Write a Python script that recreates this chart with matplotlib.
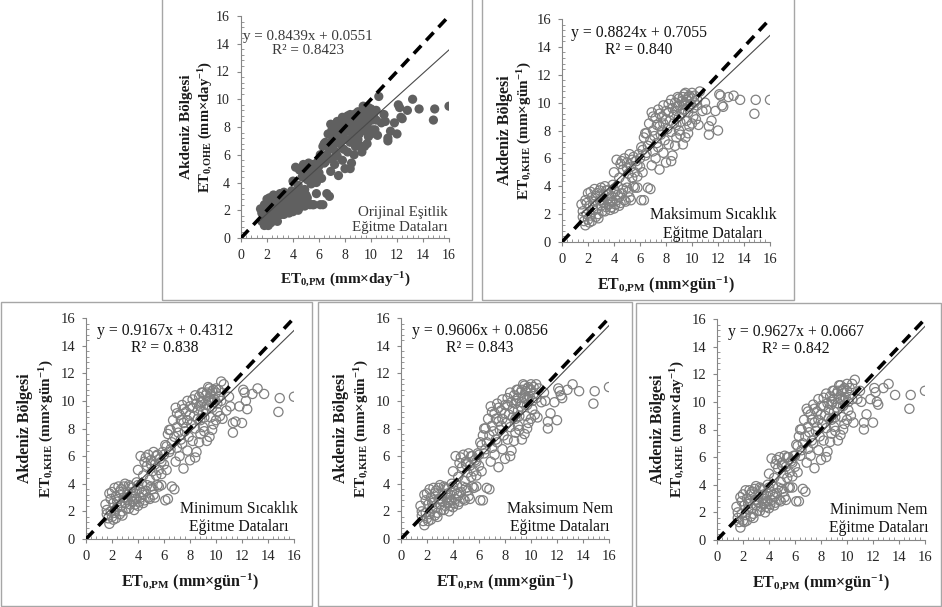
import numpy as np
import matplotlib
matplotlib.use("Agg")
import matplotlib.pyplot as plt
from matplotlib.patches import Rectangle
from matplotlib.ticker import MultipleLocator

plt.rcParams['font.family'] = ['Liberation Serif', 'DejaVu Serif']
plt.rcParams['mathtext.fontset'] = 'custom'
plt.rcParams['mathtext.rm'] = 'Liberation Serif:bold'
plt.rcParams['mathtext.bf'] = 'Liberation Serif:bold'
plt.rcParams['mathtext.it'] = 'Liberation Serif:bold'

# ET0,PM (shared x values for every panel)
et0_pm = [
    1.5, 1.6, 1.7, 1.8, 1.8, 1.9, 2.0, 2.0, 2.1, 2.2, 2.3, 2.3, 2.4, 2.5, 2.5,
    2.6, 2.7, 2.7, 2.8, 2.9, 3.0, 3.0, 3.1, 3.2, 3.2, 3.3, 3.4, 3.5, 3.5, 3.6,
    3.7, 3.8, 3.9, 3.9, 4.0, 4.1, 4.2, 4.3, 4.4, 4.5, 4.6, 4.8, 5.0, 5.2, 5.5,
    5.6, 6.1, 6.6, 6.8,
    4.0, 4.2, 4.4, 4.5, 4.7, 4.8, 4.9, 5.0, 5.1, 5.2, 5.3, 5.4, 5.5, 5.6, 5.7,
    5.8, 5.9, 6.0, 6.1, 6.2, 6.3, 6.4,
    6.5, 6.6, 6.7, 6.8, 6.9, 7.0, 7.0, 7.1, 7.2, 7.3, 7.4, 7.5, 7.6, 7.7, 7.8,
    7.8, 7.9, 8.0, 8.1, 8.2, 8.3, 8.4, 8.5, 8.6, 8.7, 8.8, 8.9, 9.0, 9.0, 9.1,
    9.2, 9.3, 9.4, 9.5, 9.6, 9.7, 9.8, 9.9, 10.0, 10.1, 10.2, 10.4, 10.6,
    6.9, 7.2, 7.5, 7.8, 8.0, 8.2, 8.5, 8.8, 9.0, 9.3, 9.5, 9.6, 9.8, 10.0, 10.3,
    10.5,
    10.8, 11.0, 11.1, 11.3, 11.3, 11.5, 11.8, 12.0, 12.1, 12.2, 12.3, 12.4, 12.8,
    13.2, 13.7, 14.8, 14.9, 16.0,
    1.6, 1.9, 2.1, 2.2, 2.4, 2.6, 2.8, 2.9, 3.1, 3.3, 3.4, 3.6, 3.7, 3.8, 4.0,
    4.1, 4.3, 4.4, 4.7, 4.9, 5.1, 5.3, 5.8, 6.3,
    4.6, 5.0, 5.4, 5.8, 6.2, 6.0, 6.4, 6.5,
    7.0, 7.3, 7.5, 7.7, 8.0, 8.2, 8.4, 8.6, 8.8, 9.0, 9.2, 9.4, 9.5, 9.7, 9.8,
    10.0, 10.2, 10.4, 8.9, 9.3,
    7.4, 8.4, 8.7, 9.1, 9.7, 10.1,
]

# ET0 estimates per panel
et0_orijinal = [
    2.1, 1.8, 1.2, 0.9, 2.4, 1.6, 2.8, 1.2, 2.0, 1.5, 2.6, 1.1, 1.8, 3.1, 2.3,
    1.4, 1.9, 2.9, 1.6, 2.4, 3.2, 2.0, 1.7, 2.8, 2.2, 3.3, 1.9, 2.5, 3.0, 2.1,
    1.8, 2.7, 3.4, 2.3, 1.9, 2.9, 2.4, 3.3, 2.6, 2.2, 2.8, 2.4, 3.1, 2.5, 2.4,
    2.4, 2.4, 3.2, 3.0,
    4.1, 5.1, 3.8, 4.9, 4.4, 5.3, 3.5, 5.0, 4.2, 5.4, 4.6, 3.9, 5.3, 4.3, 5.0,
    4.0, 5.5, 4.7, 6.0, 4.3, 6.6, 5.4,
    6.9, 6.0, 7.5, 6.4, 8.2, 7.0, 5.7, 6.7, 7.8, 6.2, 8.4, 7.3, 6.8, 7.9, 8.7,
    7.5, 6.4, 8.3, 7.1, 8.8, 7.7, 6.9, 8.5, 8.0, 8.9, 7.4, 8.6, 9.1, 7.9, 7.5,
    8.9, 8.4, 9.5, 8.7, 9.1, 8.2, 9.4, 8.8, 9.2, 8.5, 8.9, 9.2, 10.2,
    4.8, 5.3, 4.5, 5.6, 5.0, 6.2, 5.4, 6.6, 7.1, 6.2, 6.6, 7.7, 7.3, 7.5, 7.8,
    7.4,
    8.3, 8.9, 8.4, 7.2, 7.0, 7.7, 8.3, 7.5, 9.6, 9.4, 8.7, 8.6, 9.2, 10.0, 9.3,
    8.5, 9.3, 9.5,
    1.2, 2.2, 0.9, 2.9, 2.1, 2.7, 1.2, 3.0, 2.4, 1.7, 3.0, 2.8, 2.3, 2.0, 3.1,
    2.1, 2.8, 2.0, 3.2, 2.3, 2.9, 2.4, 3.2, 2.4,
    5.0, 4.5, 5.1, 4.7, 5.7, 5.2, 6.8, 5.5,
    7.8, 7.3, 8.0, 7.0, 7.7, 8.1, 8.9, 7.4, 8.2, 8.5, 8.0, 8.6, 9.3, 9.0, 8.4,
    9.3, 9.1, 8.5, 9.0, 9.0,
    5.9, 5.0, 6.0, 6.7, 6.8, 7.8,
]
et0_maks_sicaklik = [
    2.7, 2.2, 1.5, 1.2, 3.0, 2.0, 3.5, 1.6, 2.6, 1.9, 3.2, 1.5, 2.3, 3.8, 2.9,
    1.8, 2.4, 3.5, 2.0, 3.0, 3.9, 2.6, 2.2, 3.4, 2.8, 4.0, 2.5, 3.1, 3.7, 2.7,
    2.3, 3.3, 4.1, 2.9, 2.4, 3.6, 3.0, 4.0, 3.2, 2.8, 3.5, 3.0, 3.9, 3.2, 4.0,
    3.9, 3.0, 3.9, 3.8,
    5.0, 5.9, 4.6, 5.6, 5.2, 6.0, 4.3, 5.7, 4.9, 6.3, 5.4, 4.6, 6.1, 5.0, 5.8,
    4.7, 6.3, 5.4, 6.8, 5.0, 7.5, 6.2,
    7.8, 6.9, 8.5, 7.3, 9.3, 8.0, 6.5, 7.6, 8.9, 7.1, 9.5, 8.3, 7.7, 9.0, 9.8,
    8.5, 7.3, 9.4, 8.1, 9.9, 8.7, 7.9, 9.6, 9.1, 10.0, 8.4, 9.7, 10.3, 9.0, 8.6,
    10.1, 9.5, 10.6, 9.8, 10.2, 9.3, 10.5, 9.9, 10.3, 9.6, 10.0, 10.2, 10.8,
    5.5, 6.0, 5.2, 6.4, 5.7, 7.0, 6.2, 7.5, 8.0, 7.0, 7.5, 8.7, 8.3, 8.5, 8.8,
    8.4,
    9.4, 10.0, 9.5, 8.3, 7.7, 8.7, 9.4, 8.0, 10.6, 10.5, 9.8, 9.7, 10.4, 10.5,
    10.2, 9.2, 10.2, 10.2,
    1.8, 2.8, 1.4, 3.6, 2.7, 3.3, 1.7, 3.7, 3.0, 2.2, 3.7, 3.4, 2.9, 2.5, 3.8,
    2.7, 3.4, 2.6, 3.8, 2.9, 3.6, 3.0, 3.9, 3.0,
    5.8, 5.3, 5.9, 5.5, 6.6, 6.0, 7.8, 6.4,
    9.0, 8.4, 9.2, 8.0, 8.8, 9.3, 10.2, 8.5, 9.4, 9.8, 9.2, 9.9, 10.7, 10.4, 9.7,
    10.7, 10.5, 9.8, 10.4, 10.4,
    6.8, 5.8, 6.9, 7.7, 7.8, 9.0,
]
et0_min_sicaklik = [
    2.5, 2.1, 1.5, 1.1, 3.3, 2.0, 3.4, 1.6, 2.6, 1.9, 3.1, 1.5, 2.3, 3.8, 2.9,
    1.8, 2.4, 3.6, 2.0, 3.0, 4.0, 2.6, 2.2, 3.4, 2.8, 3.9, 2.5, 3.1, 3.7, 2.7,
    2.1, 3.3, 4.1, 2.9, 2.4, 3.6, 3.0, 4.0, 3.2, 2.8, 3.5, 3.0, 3.8, 3.2, 3.9,
    3.8, 2.8, 3.8, 3.6,
    5.0, 6.0, 4.6, 5.6, 5.3, 6.1, 4.3, 5.7, 4.9, 6.3, 5.4, 4.6, 6.1, 5.0, 5.8,
    4.7, 6.3, 5.4, 6.8, 5.0, 7.6, 6.3,
    7.9, 7.0, 8.6, 7.4, 9.5, 8.1, 6.6, 7.7, 9.0, 7.2, 9.7, 8.4, 7.8, 9.2, 10.0,
    8.6, 7.4, 9.6, 8.3, 10.1, 8.9, 8.0, 9.8, 9.3, 10.3, 8.6, 9.9, 10.6, 9.2, 8.8,
    10.4, 9.7, 11.0, 10.0, 10.5, 9.5, 10.8, 10.1, 10.6, 9.8, 10.3, 11.4, 11.2,
    5.6, 6.0, 5.1, 6.4, 5.7, 7.1, 6.3, 7.6, 8.1, 7.1, 7.4, 8.8, 8.3, 8.6, 8.9,
    8.7,
    9.3, 10.3, 9.6, 8.4, 7.7, 8.5, 9.6, 8.4, 10.8, 10.6, 10.0, 9.4, 10.5, 10.9,
    10.5, 9.2, 10.2, 10.3,
    1.8, 2.9, 1.4, 3.7, 2.7, 3.4, 1.7, 3.8, 3.0, 2.2, 3.8, 3.4, 2.9, 2.5, 3.9,
    2.7, 3.4, 2.6, 3.9, 2.9, 3.6, 3.0, 3.9, 2.9,
    5.9, 5.4, 6.0, 5.6, 6.7, 6.1, 7.9, 6.5,
    9.1, 8.6, 9.4, 8.1, 9.0, 9.5, 10.4, 8.7, 9.6, 10.0, 9.4, 10.1, 10.9, 10.7,
    9.9, 10.9, 10.8, 10.0, 10.6, 10.6,
    6.9, 5.9, 7.0, 7.8, 7.9, 9.2,
]
et0_maks_nem = [
    2.4, 2.0, 1.3, 1.0, 3.2, 1.9, 3.3, 1.5, 2.5, 1.8, 3.0, 1.4, 2.2, 3.7, 2.8,
    1.7, 2.3, 3.5, 1.9, 2.9, 3.9, 2.5, 2.1, 3.3, 2.7, 3.8, 2.4, 3.0, 3.6, 2.6,
    2.0, 3.2, 4.0, 2.8, 2.3, 3.5, 2.9, 3.9, 3.1, 2.7, 3.4, 2.9, 3.7, 3.1, 3.8,
    3.7, 2.8, 3.7, 3.6,
    4.9, 6.0, 4.5, 5.5, 5.2, 6.1, 4.2, 5.6, 4.8, 6.2, 5.3, 4.5, 6.0, 4.9, 5.7,
    4.6, 6.2, 5.3, 7.0, 4.9, 7.5, 6.2,
    8.0, 7.0, 8.7, 7.5, 9.6, 8.2, 6.6, 7.8, 9.1, 7.2, 9.8, 8.5, 7.9, 9.3, 10.1,
    8.7, 7.5, 9.7, 8.4, 10.2, 9.0, 8.1, 9.9, 9.4, 10.4, 8.7, 10.0, 10.8, 9.3, 8.9,
    10.6, 9.9, 11.2, 10.2, 10.7, 9.7, 11.0, 10.3, 10.8, 10.0, 10.5, 11.2, 10.9,
    5.6, 6.1, 5.2, 6.5, 5.8, 7.2, 6.4, 7.7, 8.2, 7.2, 7.6, 8.9, 8.4, 8.7, 9.0,
    8.8,
    9.9, 10.6, 10.0, 8.5, 8.0, 9.1, 9.9, 8.6, 10.9, 10.7, 10.4, 10.2, 10.8, 11.2,
    10.7, 9.8, 10.7, 11.0,
    1.7, 2.8, 1.3, 3.6, 2.6, 3.3, 1.6, 3.7, 2.9, 2.1, 3.7, 3.3, 2.8, 2.4, 3.8,
    2.6, 3.3, 2.5, 3.8, 2.8, 3.5, 2.9, 3.8, 2.8,
    5.9, 5.4, 6.0, 5.6, 6.8, 6.1, 8.0, 6.5,
    9.2, 8.7, 9.5, 8.2, 9.1, 9.7, 10.6, 8.8, 9.8, 10.2, 9.6, 10.3, 11.1, 10.9,
    10.1, 11.2, 11.0, 10.2, 10.8, 10.8,
    7.0, 6.0, 7.1, 7.9, 8.0, 9.4,
]
et0_min_nem = [
    2.4, 2.0, 1.3, 0.9, 3.1, 1.9, 3.3, 1.4, 2.5, 1.8, 3.0, 1.4, 2.2, 3.6, 2.8,
    1.7, 2.3, 3.5, 1.9, 2.9, 3.9, 2.5, 2.1, 3.3, 2.7, 3.8, 2.4, 3.0, 3.6, 2.6,
    2.0, 3.2, 4.0, 2.8, 2.3, 3.5, 2.9, 3.9, 3.1, 2.7, 3.4, 2.9, 3.7, 3.1, 3.8,
    3.8, 2.8, 3.7, 3.5,
    4.8, 5.9, 4.5, 5.5, 5.2, 6.0, 4.2, 5.6, 4.8, 6.1, 5.3, 4.5, 6.0, 4.9, 5.7,
    4.6, 6.1, 5.3, 6.9, 4.9, 7.5, 6.1,
    8.0, 7.0, 8.7, 7.5, 9.5, 8.2, 6.6, 7.8, 9.1, 7.2, 9.8, 8.5, 7.9, 9.3, 10.2,
    8.7, 7.5, 9.7, 8.4, 10.3, 9.0, 8.1, 9.9, 9.4, 10.4, 8.7, 10.0, 10.8, 9.3, 8.9,
    10.6, 9.9, 11.2, 10.2, 10.8, 9.7, 11.0, 10.3, 10.8, 10.0, 10.5, 11.3, 11.6,
    5.6, 6.1, 5.2, 6.5, 5.8, 7.2, 6.4, 7.7, 8.2, 7.2, 7.6, 8.9, 8.4, 8.7, 9.0,
    8.5,
    10.2, 10.8, 10.0, 8.5, 8.0, 9.1, 10.2, 8.5, 11.0, 10.7, 10.0, 9.8, 11.0, 11.3,
    10.5, 9.5, 10.5, 10.8,
    1.6, 2.8, 1.3, 3.6, 2.6, 3.3, 1.6, 3.7, 2.9, 2.1, 3.7, 3.3, 2.8, 2.4, 3.8,
    2.6, 3.3, 2.5, 3.8, 2.8, 3.5, 2.9, 3.8, 2.8,
    5.8, 5.4, 6.0, 5.6, 6.8, 6.1, 8.0, 6.5,
    9.3, 8.7, 9.5, 8.2, 9.1, 9.7, 10.6, 8.8, 9.8, 10.2, 9.6, 10.3, 11.2, 10.9,
    10.1, 11.3, 11.0, 10.2, 10.8, 10.8,
    7.0, 6.0, 7.1, 7.9, 8.0, 9.4,
]

slopes = [0.8439, 0.8824, 0.9167, 0.9606, 0.9627]
intercepts = [0.0551, 0.7055, 0.4312, 0.0856, 0.0667]
r2_labels = ["0.8423", "0.840", "0.838", "0.843", "0.842"]
panel_titles = ["Orijinal Eşitlik\nEğitme Dataları",
                "Maksimum Sıcaklık\nEğitme Dataları",
                "Minimum Sıcaklık\nEğitme Dataları",
                "Maksimum Nem\nEğitme Dataları",
                "Minimum Nem\nEğitme Dataları"]
y_subs = ["0{,}OHE", "0{,}KHE", "0{,}KHE", "0{,}KHE", "0{,}KHE"]
y_units = ["day", "gün", "gün", "gün", "day"]
x_units = ["day", "gün", "gün", "gün", "gün"]
y_series = [et0_orijinal, et0_maks_sicaklik, et0_min_sicaklik,
            et0_maks_nem, et0_min_nem]

W, H = 942, 607
# axes rectangles in pixels: left, top, right, bottom
axes_px = [(241, 16, 449, 238), (562, 19, 770, 242),
           (86, 318, 294, 539), (401, 318, 609, 539), (717, 319, 925, 540)]
boxes_px = [(162, -2, 472, 300), (482, -2, 794, 300),
            (1, 302, 312, 606), (318, 302, 632, 606), (636, 303, 941, 606)]
# text positions (data coords): equation (left edge), panel note (right edge)
eq_pos = [(0.15, 14.0), (0.7, 14.4), (0.85, 14.45), (0.85, 14.45), (0.85, 14.45)]
note_pos = [(15.9, 1.3), (16.5, 1.25), (16.3, 1.5), (16.3, 1.5), (16.3, 1.5)]
# right edges of the two y label lines, axes fraction
ylab1_x = [-0.232, -0.236, -0.256, -0.251, -0.246]
ylab2_x = [-0.125, -0.136, -0.146, -0.146, -0.146]
fsz = [10, 10.5, 10.5, 10.5, 10.5]


def to_fig(l, t, r, b):
    return [l / W, 1 - b / H, (r - l) / W, (b - t) / H]


def main():
    fig = plt.figure(figsize=(W / 100, H / 100), dpi=100)

    for (l, t, r, b) in boxes_px:
        fig.patches.append(Rectangle((l / W, 1 - b / H), (r - l) / W, (b - t) / H,
                                     transform=fig.transFigure, fill=False,
                                     edgecolor='#a6a6a6', linewidth=1.0))

    x = np.array(et0_pm)
    for i in range(5):
        ax = fig.add_axes(to_fig(*axes_px[i]))
        y = np.array(y_series[i])
        if i == 0:
            ax.scatter(x, y, s=44, color='#606060', edgecolors='none', zorder=2)
        else:
            ax.scatter(x, y, s=44, facecolors='none', edgecolors='#808080',
                       linewidths=0.9, zorder=2)

        ax.plot([0, 16], [0, 16], color='black', linestyle=(0, (3, 2)),
                linewidth=2.6, zorder=3)
        xt = np.array([x.min(), x.max()])
        ax.plot(xt, slopes[i] * xt + intercepts[i], color='#4a4a4a',
                linewidth=0.8, zorder=4)

        ax.set_xlim(0, 16)
        ax.set_ylim(0, 16)
        ax.xaxis.set_major_locator(MultipleLocator(2))
        ax.yaxis.set_major_locator(MultipleLocator(2))
        ax.xaxis.set_minor_locator(MultipleLocator(0.4))
        ax.yaxis.set_minor_locator(MultipleLocator(0.4))
        ax.tick_params(which='major', direction='out', length=3, width=0.8,
                       color='#868686', labelsize=fsz[i], labelcolor='#262626',
                       pad=5)
        ax.tick_params(which='minor', direction='in', length=2.5, width=0.6,
                       color='#868686')
        for side in ['top', 'right']:
            ax.spines[side].set_visible(False)
        for side in ['left', 'bottom']:
            ax.spines[side].set_color('#868686')
            ax.spines[side].set_linewidth(0.8)

        col = '#3a3a3a' if i == 0 else '#141414'
        ax.text(eq_pos[i][0], eq_pos[i][1],
                "y = %.4fx + %.4f\nR² = %s" % (slopes[i], intercepts[i], r2_labels[i]),
                ha='left', va='center', multialignment='center',
                fontsize=fsz[i] + 0.8, color=col, linespacing=1.1, zorder=5)
        ax.text(note_pos[i][0], note_pos[i][1], panel_titles[i],
                ha='right', va='center',
                multialignment='right' if i == 0 else 'center',
                fontsize=fsz[i] + 0.8, color=col,
                linespacing=1.2, zorder=5)

        ax.text(ylab1_x[i], 0.5, "Akdeniz Bölgesi",
                transform=ax.transAxes, rotation=90, ha='right', va='center',
                fontsize=fsz[i] + 1, fontweight='bold', color='#1a1a1a')
        ax.text(ylab2_x[i], 0.5,
                "ET$_{%s}$ (mm×%s$^{-1}$)" % (y_subs[i], y_units[i]),
                transform=ax.transAxes, rotation=90, ha='right', va='center',
                fontsize=fsz[i] + 0.5, fontweight='bold', color='#1a1a1a')
        ax.set_xlabel("ET$_{0{,}PM}$ (mm×%s$^{-1}$)" % x_units[i],
                      fontsize=fsz[i] + 1, fontweight='bold', color='#1a1a1a',
                      labelpad=6)

    fig.savefig("out.png", dpi=100)


if __name__ == '__main__':
    main()
